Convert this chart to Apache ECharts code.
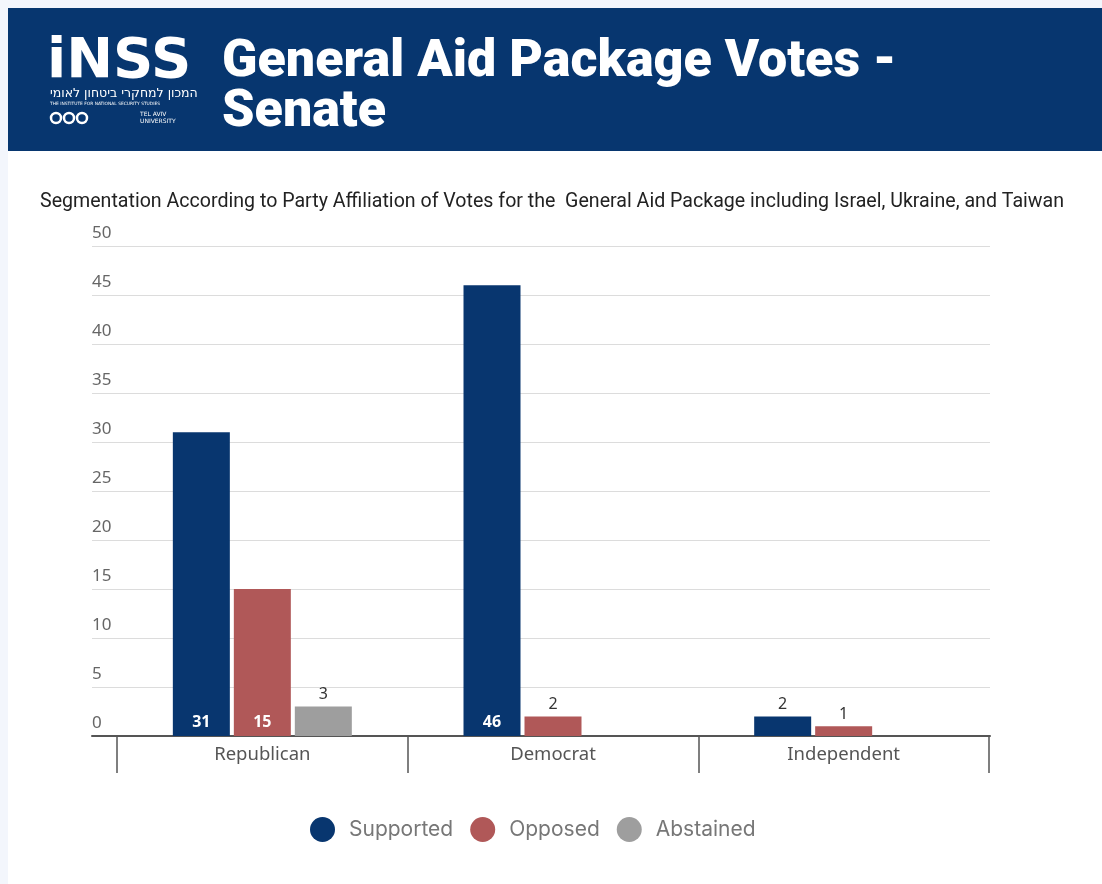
<!DOCTYPE html>
<html>
<head>
<meta charset="utf-8">
<script src="https://cdn.jsdelivr.net/npm/echarts@6/dist/echarts.min.js"></script>
<style>
  html, body { margin: 0; padding: 0; background: #f3f6fc; }
  #chart { width: 1102px; height: 884px; }
</style>
</head>
<body>
<div id="chart"></div>
<script>
// Senate votes on the general aid package, split by party
const categories = ['Republican', 'Democrat', 'Independent'];
const seriesNames = ['Supported', 'Opposed', 'Abstained'];
const supported = [31, 46, 2];
const opposed = [15, 2, 1];
const abstained = [3, null, null];
const yTicks = { min: 0, max: 50, interval: 5 };

const colors = ['#08366f', '#b05858', '#9e9e9e'];

// large bars carry their value inside the base, small ones above
function withLabels(values) {
  return values.map(v => {
    if (v === null) return null;
    if (v >= 10) {
      return { value: v, label: { position: 'insideBottom', color: '#ffffff', fontWeight: 'bold', distance: 6 } };
    }
    return { value: v, label: { position: 'top', color: '#333333', fontWeight: 'normal', distance: 4 } };
  });
}

const chart = echarts.init(document.getElementById('chart'), null, { renderer: 'canvas' });

const option = {
  backgroundColor: '#f3f6fc',
  animation: false,
  graphic: [
    { type: 'rect', z: -10, shape: { x: 8, y: 151, width: 1094, height: 733 }, style: { fill: '#ffffff' } },
    { type: 'rect', z: -5, shape: { x: 8, y: 8, width: 1094, height: 143 }, style: { fill: '#07366f' } },
    // INSS logo
    { type: 'text', left: 47, top: 34, style: { text: 'iNSS', fill: '#ffffff', font: 'bold 56px "DejaVu Sans"' } },
    { type: 'text', left: 50, top: 87, style: { text: 'המכון למחקרי ביטחון לאומי', fill: '#ffffff', font: '12.5px "DejaVu Sans"' } },
    { type: 'text', left: 50, top: 102, style: { text: 'THE INSTITUTE FOR NATIONAL SECURITY STUDIES', fill: '#ffffff', font: '4.4px "DejaVu Sans"' } },
    { type: 'circle', shape: { cx: 56, cy: 118, r: 5 }, style: { fill: 'none', stroke: '#ffffff', lineWidth: 2.5 } },
    { type: 'circle', shape: { cx: 69, cy: 118, r: 5 }, style: { fill: 'none', stroke: '#ffffff', lineWidth: 2.5 } },
    { type: 'circle', shape: { cx: 82, cy: 118, r: 5 }, style: { fill: 'none', stroke: '#ffffff', lineWidth: 2.5 } },
    { type: 'text', left: 140, top: 111, style: { text: 'TEL AVIV\nUNIVERSITY', fill: '#ffffff', font: '6px "DejaVu Sans"', lineHeight: 7 } }
  ],
  title: [
    {
      text: 'General Aid Package Votes -\nSenate',
      left: 222, top: 38, padding: 0,
      textStyle: { color: '#ffffff', fontFamily: 'Roboto', fontWeight: 900, fontSize: 52, lineHeight: 50 }
    },
    {
      text: 'Segmentation According to Party Affiliation of Votes for the  General Aid Package including Israel, Ukraine, and Taiwan',
      left: 40, top: 192, padding: 0,
      textStyle: { color: '#222222', fontFamily: 'Roboto', fontWeight: 'normal', fontSize: 19.6 }
    }
  ],
  legend: {
    data: seriesNames,
    left: 305, top: 812,
    icon: 'circle',
    itemWidth: 25, itemHeight: 25,
    itemGap: 17,
    textStyle: { color: '#777777', fontFamily: 'Inter', fontSize: 21, padding: [0, 0, 0, 9] }
  },
  grid: [
    { left: 92, right: 112, top: 246, bottom: 148 },
    { left: 117, right: 113, top: 246, bottom: 148 }
  ],
  xAxis: [
    {
      gridIndex: 0, type: 'value', min: 0, max: 1,
      axisLine: { show: true, onZero: false, lineStyle: { color: '#555555', width: 2 } },
      axisTick: { show: false }, axisLabel: { show: false }, splitLine: { show: false }
    },
    {
      gridIndex: 1, type: 'category', data: categories,
      axisLine: { show: false },
      axisTick: { show: true, length: 37, lineStyle: { color: '#555555', width: 1.5 } },
      axisLabel: { color: '#555555', fontFamily: 'Noto Sans', fontSize: 18.5, margin: 9 }
    }
  ],
  yAxis: [
    {
      gridIndex: 0, type: 'value', min: yTicks.min, max: yTicks.max, interval: yTicks.interval,
      axisLine: { show: false }, axisTick: { show: false },
      splitLine: { lineStyle: { color: '#dcdcdc', width: 1 } },
      axisLabel: {
        inside: true, margin: 0, verticalAlign: 'bottom', align: 'left',
        padding: [0, 0, 4, 0],
        color: '#666666', fontFamily: 'Noto Sans', fontSize: 17
      }
    },
    {
      gridIndex: 1, type: 'value', min: yTicks.min, max: yTicks.max, interval: yTicks.interval,
      show: false, splitLine: { show: false }
    }
  ],
  series: [supported, opposed, abstained].map((vals, i) => ({
    name: seriesNames[i],
    type: 'bar',
    xAxisIndex: 1, yAxisIndex: 1,
    barWidth: 57,
    barGap: '7%',
    itemStyle: { color: colors[i] },
    label: { show: true, fontFamily: 'Noto Sans', fontSize: 16 },
    data: withLabels(vals)
  }))
};

chart.setOption(option);
</script>
</body>
</html>
